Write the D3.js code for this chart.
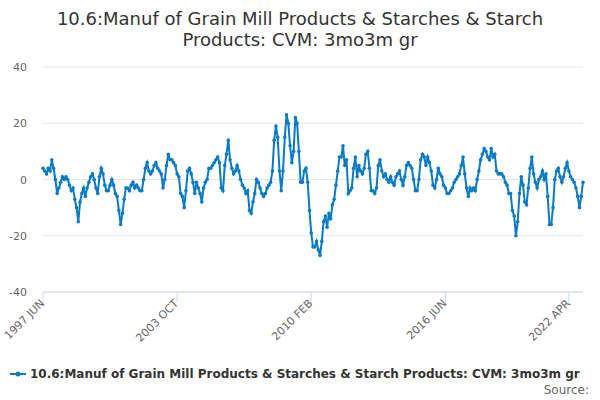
<!DOCTYPE html>
<html><head><meta charset="utf-8">
<script src="https://cdn.jsdelivr.net/npm/d3@7"></script>
<style>body{margin:0;background:#fff;font-family:"DejaVu Sans",sans-serif}</style>
</head><body><div id="chart"></div>
<script>
// monthly values, 1997 JUN .. 2022 APR
var values = [
  4,3,2,4,3,7,4,
  0,-5,-3,-1,1,0,1,0,-2,-4,-3,-7,
  -10,-15,-8,-5,-3,-6,-3,-1,1,2,0,-3,
  -5,1,4,2,-2,-4,-4,-2,0,-2,-5,-6,
  -11,-16,-12,-7,-3,-3,-4,-2,-1,-3,-2,-3,
  -4,-4,0,4,6,3,2,3,5,6,4,3,
  2,-3,0,5,9,7,7,6,5,2,1,-5,
  -6,-10,-4,3,4,2,-1,-5,-1,-3,-5,-8,
  -3,-1,0,4,4,5,6,7,8,6,-3,-4,
  5,9,14,7,4,2,3,5,3,0,-2,-3,
  -5,-4,-11,-12,-8,-5,0,-1,-3,-5,-6,-5,
  -3,-2,-1,3,14,19,15,3,-4,3,15,23,
  20,12,6,10,22,20,10,-1,-1,3,4,-1,
  -11,-19,-24,-24,-22,-25,-27,-22,-15,-13,-17,-12,
  -14,-9,-7,-2,3,8,8,12,5,7,-5,-4,
  -3,4,8,1,5,3,2,4,9,10,4,-4,
  -4,-5,-3,5,7,3,1,2,0,-1,1,-1,
  -2,1,2,3,0,-2,1,5,6,5,4,0,
  -4,-4,0,7,9,8,5,8,6,3,-2,-3,
  0,4,2,1,-2,-3,-5,-5,-4,-3,-1,0,
  1,2,5,8,2,-3,-6,-3,-4,-3,-4,0,
  3,7,9,11,10,8,7,11,8,9,3,2,
  2,2,1,-1,-2,-5,-5,-11,-13,-20,-15,-5,
  1,-2,-8,-9,-3,4,8,2,-1,-3,0,1,
  3,0,2,-6,-16,-16,-10,0,3,4,1,-1,
  1,4,6,3,1,0,-1,-3,-6,-10,-6,-1
];
var tickLabels = ["1997 JUN","2003 OCT","2010 FEB","2016 JUN","2022 APR"];
var tickIndex = [0, 76, 152, 228, 298];
var yTicks = [-40,-20,0,20,40];

var W = 600, H = 400;
var m = {top: 67, left: 43, right: 17};
var ph = 225;
var svg = d3.select("#chart").append("svg").attr("width", W).attr("height", H);

svg.append("text").attr("x", W/2).attr("y", 25).attr("text-anchor","middle")
  .attr("font-size", 18).attr("fill", "#333").text("10.6:Manuf of Grain Mill Products & Starches & Starch");
svg.append("text").attr("x", W/2).attr("y", 46).attr("text-anchor","middle")
  .attr("font-size", 18).attr("fill", "#333").text("Products: CVM: 3mo3m gr");

var x = d3.scaleLinear().domain([0, values.length-1]).range([m.left, W - m.right]);
var y = d3.scaleLinear().domain([-40, 40]).range([m.top + ph, m.top]);

svg.append("g").selectAll("line").data(yTicks).enter().append("line")
  .attr("x1", m.left).attr("x2", W - m.right)
  .attr("y1", d => y(d)).attr("y2", d => y(d))
  .attr("stroke", "#e6e6e6");
svg.append("g").selectAll("text").data(yTicks).enter().append("text")
  .attr("x", 27).attr("y", d => y(d) + 4).attr("text-anchor","end")
  .attr("font-size", 11).attr("fill", "#666").text(d => d);

svg.append("line").attr("x1", m.left).attr("x2", W - m.right)
  .attr("y1", m.top + ph).attr("y2", m.top + ph).attr("stroke", "#ccd6eb");
var xt = svg.append("g").selectAll("g").data(tickIndex).enter().append("g");
xt.append("line").attr("x1", d => x(d)).attr("x2", d => x(d))
  .attr("y1", m.top + ph).attr("y2", m.top + ph + 10).attr("stroke", "#ccd6eb");
xt.append("text").attr("text-anchor","end").attr("font-size", 11).attr("fill", "#666")
  .attr("transform", d => "translate(" + (x(d)+2) + "," + (m.top + ph + 12) + ") rotate(-45)")
  .text((d, i) => tickLabels[i]);

var line = d3.line().x((d, i) => x(i)).y(d => y(d));
svg.append("path").datum(values).attr("d", line).attr("fill","none")
  .attr("stroke", "#0a7bc2").attr("stroke-width", 2);
svg.append("g").selectAll("circle").data(values).enter().append("circle")
  .attr("cx", (d, i) => x(i)).attr("cy", d => y(d)).attr("r", 1.8).attr("fill", "#0a7bc2");

var lg = svg.append("g");
lg.append("line").attr("x1", 10).attr("x2", 26).attr("y1", 374).attr("y2", 374)
  .attr("stroke", "#0a7bc2").attr("stroke-width", 2);
lg.append("circle").attr("cx", 18).attr("cy", 374).attr("r", 2.5).attr("fill", "#0a7bc2");
lg.append("text").attr("x", 30).attr("y", 378).attr("font-size", 12).attr("font-weight","bold")
  .attr("fill", "#333").text("10.6:Manuf of Grain Mill Products & Starches & Starch Products: CVM: 3mo3m gr");
svg.append("text").attr("x", 589).attr("y", 394).attr("text-anchor","end")
  .attr("font-size", 12).attr("fill", "#666").text("Source:");
</script></body></html>
